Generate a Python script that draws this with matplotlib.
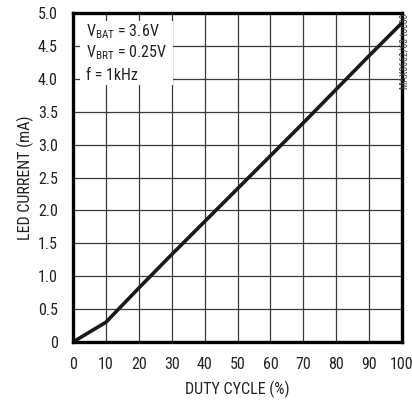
import matplotlib
matplotlib.use('agg')
import matplotlib.pyplot as plt
from matplotlib.patches import Rectangle

# LED current vs PWM duty cycle
duty = [0, 10, 20, 30, 40, 50, 60, 70, 80, 90, 100]
current = [0, 0.30, 0.82, 1.33, 1.83, 2.33, 2.83, 3.33, 3.84, 4.35, 4.85]
xticks = [0, 10, 20, 30, 40, 50, 60, 70, 80, 90, 100]
yticks = [0, 0.5, 1.0, 1.5, 2.0, 2.5, 3.0, 3.5, 4.0, 4.5, 5.0]
ylabels = ['0', '0.5', '1.0', '1.5', '2.0', '2.5', '3.0', '3.5', '4.0', '4.5', '5.0']
notes = [r'V$_{\mathrm{BAT}}$ = 3.6V', r'V$_{\mathrm{BRT}}$ = 0.25V', 'f = 1kHz']

plt.rcParams['font.family'] = ['Roboto Condensed', 'DejaVu Sans']
plt.rcParams['mathtext.fontset'] = 'custom'
plt.rcParams['mathtext.rm'] = 'Roboto Condensed'
plt.rcParams['mathtext.it'] = 'Roboto Condensed'

fig = plt.figure(figsize=(4.12, 4.03), dpi=100)
ax = fig.add_axes([73/412, 1 - 342/403, 329/412, 329/403])

ax.plot(duty, current, color='#1a1a1a', lw=2.6, zorder=4, solid_capstyle='butt')
ax.set_xlim(0, 100)
ax.set_ylim(0, 5)
ax.set_xticks(xticks)
ax.set_yticks(yticks)
ax.set_yticklabels(ylabels)
ax.tick_params(length=0, labelsize=11.5, colors='#222')
ax.tick_params(axis='x', pad=11)
ax.tick_params(axis='y', pad=11)
ax.grid(True, color='#3a3a3a', lw=0.9)
ax.set_axisbelow(True)
for s in ax.spines.values():
    s.set_linewidth(2.4)
    s.set_color('black')
    s.set_zorder(5)

# blank out grid behind the conditions block
ax.add_patch(Rectangle((2.1, 3.9), 28.4, 0.98, facecolor='white', edgecolor='none', zorder=2))
for i, t in enumerate(notes):
    ax.text(4, [4.64, 4.32, 3.98][i], t, fontsize=11.5, va='baseline', ha='left',
            color='#222', zorder=3)

ax.set_xlabel('DUTY CYCLE (%)', fontsize=11.5, color='#222', labelpad=6)
ax.set_ylabel('LED CURRENT (mA)', fontsize=11.5, color='#222', labelpad=3)
fig.text(405/412, 1 - 51/403, 'MAX8662/63 toc30', rotation=90, fontsize=7,
         ha='center', va='center', color='#444')

plt.savefig('out.png', dpi=100)
